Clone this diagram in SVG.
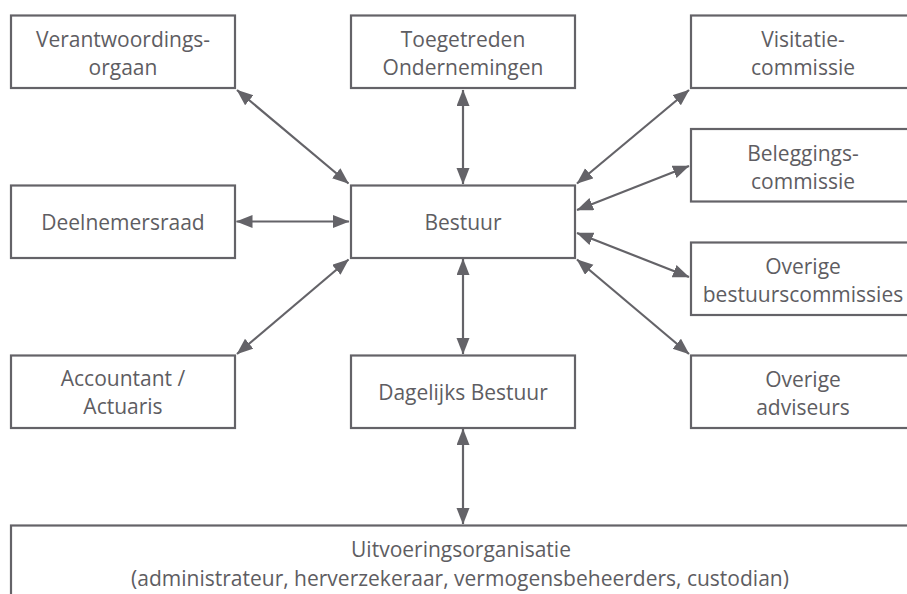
<svg xmlns="http://www.w3.org/2000/svg" width="907" height="594" viewBox="0 0 907 594">
<style>
.box{fill:#ffffff;stroke:#646368;stroke-width:2.2}
.lbl{font-family:"Open Sans","Noto Sans",sans-serif;font-size:21px;fill:#5e5d62;text-anchor:middle}
.con{stroke:#646368;stroke-width:2.2;fill:none;marker-start:url(#ah);marker-end:url(#ah)}
</style>
<defs>
<marker id="ah" markerUnits="userSpaceOnUse" markerWidth="17" markerHeight="14" refX="16" refY="6.5" orient="auto-start-reverse" viewBox="0 0 17 14">
<path d="M0,0 L16.5,6.5 L0,13 Z" fill="#646368"/>
</marker>
</defs>
<rect width="907" height="594" fill="#ffffff"/>
<g id="connectors">
<line class="con" x1="237" y1="90" x2="348.5" y2="183.5"/>
<line class="con" x1="463" y1="90" x2="463" y2="184"/>
<line class="con" x1="236.5" y1="221.5" x2="349" y2="221.5"/>
<line class="con" x1="348.5" y1="259.5" x2="237" y2="354"/>
<line class="con" x1="463" y1="259" x2="463" y2="354"/>
<line class="con" x1="463" y1="429" x2="463" y2="524"/>
<line class="con" x1="577" y1="183.5" x2="689" y2="90"/>
<line class="con" x1="577" y1="210" x2="689" y2="166"/>
<line class="con" x1="577" y1="233" x2="689" y2="277"/>
<line class="con" x1="577" y1="259.5" x2="689" y2="354"/>
</g>
<g id="verantwoordingsorgaan">
<rect class="box" x="11" y="15.5" width="224" height="72.5"/>
<text class="lbl" x="123" y="47">Verantwoordings-</text>
<text class="lbl" x="123" y="75">orgaan</text>
</g>
<g id="toegetreden">
<rect class="box" x="351" y="15.5" width="224" height="72.5"/>
<text class="lbl" x="463" y="46.5">Toegetreden</text>
<text class="lbl" x="463" y="74.5">Ondernemingen</text>
</g>
<g id="visitatiecommissie">
<rect class="box" x="691" y="15.5" width="224" height="72.5"/>
<text class="lbl" x="803" y="47">Visitatie-</text>
<text class="lbl" x="803" y="75">commissie</text>
</g>
<g id="beleggingscommissie">
<rect class="box" x="691" y="129" width="224" height="72.5"/>
<text class="lbl" x="803" y="160.5">Beleggings-</text>
<text class="lbl" x="803" y="188.5">commissie</text>
</g>
<g id="deelnemersraad">
<rect class="box" x="11" y="185.5" width="224" height="72.5"/>
<text class="lbl" x="123" y="230">Deelnemersraad</text>
</g>
<g id="bestuur">
<rect class="box" x="351" y="185.5" width="224" height="72.5"/>
<text class="lbl" x="463" y="230">Bestuur</text>
</g>
<g id="overige-bestuurscommissies">
<rect class="box" x="691" y="242.5" width="224" height="72.5"/>
<text class="lbl" x="803" y="273.5">Overige</text>
<text class="lbl" x="803" y="301.5">bestuurscommissies</text>
</g>
<g id="accountant">
<rect class="box" x="11" y="355.5" width="224" height="72.5"/>
<text class="lbl" x="123" y="386">Accountant /</text>
<text class="lbl" x="123" y="414">Actuaris</text>
</g>
<g id="dagelijks-bestuur">
<rect class="box" x="351" y="355.5" width="224" height="72.5"/>
<text class="lbl" x="463" y="400">Dagelijks Bestuur</text>
</g>
<g id="overige-adviseurs">
<rect class="box" x="691" y="355.5" width="224" height="72.5"/>
<text class="lbl" x="803" y="387">Overige</text>
<text class="lbl" x="803" y="415">adviseurs</text>
</g>
<g id="uitvoeringsorganisatie">
<rect class="box" x="11" y="525.5" width="910" height="100"/>
<text class="lbl" x="461" y="556.5">Uitvoeringsorganisatie</text>
<text class="lbl" x="460" y="585.5">(administrateur, herverzekeraar, vermogensbeheerders, custodian)</text>
</g>
</svg>
